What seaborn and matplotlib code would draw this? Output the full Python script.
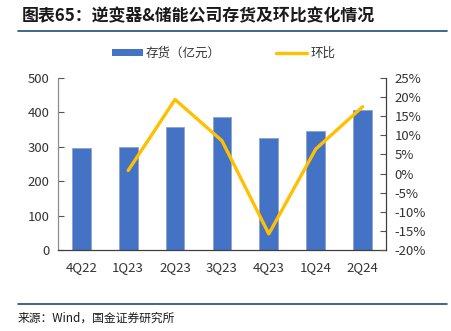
import numpy as np
import pandas as pd
import matplotlib
matplotlib.use("Agg")
import matplotlib.pyplot as plt
from matplotlib.lines import Line2D
from matplotlib.patches import Patch
import seaborn as sns

categories = ["4Q22", "1Q23", "2Q23", "3Q23", "4Q23", "1Q24", "2Q24"]
inventory = [297, 300, 358, 387, 326, 346, 407]
qoq = [np.nan, 0.008, 0.194, 0.086, -0.158, 0.064, 0.175]
left_ticks = [0, 100, 200, 300, 400, 500]
right_ticks = [-0.20, -0.15, -0.10, -0.05, 0.0, 0.05, 0.10, 0.15, 0.20, 0.25]

title = "图表65：逆变器&储能公司存货及环比变化情况"
source = "来源：Wind，国金证券研究所"
bar_label = "存货（亿元）"
line_label = "环比"

sns.set_style("white")
plt.rcParams["font.family"] = ["Noto Sans CJK SC", "DejaVu Sans"]

BLUE = "#4472C4"
GOLD = "#FFC000"
TXT = "#333333"

df = pd.DataFrame({"q": categories, "inv": inventory, "qoq": qoq})

fig = plt.figure(figsize=(4.52, 3.31), dpi=100)
ax = fig.add_axes([0.128, 0.245, 0.726, 0.519])

sns.barplot(data=df, x="q", y="inv", color=BLUE, width=0.4, ax=ax,
            saturation=1, edgecolor="#8EA3C8", linewidth=0.6)
ax.set_xlim(-0.5, len(categories) - 0.5)
ax.set_ylim(0, 500)
ax.set_yticks(left_ticks)
ax.set_xlabel("")
ax.set_ylabel("")

ax2 = ax.twinx()
sns.lineplot(data=df, x="q", y="qoq", color=GOLD, linewidth=2.4, ax=ax2,
             sort=False)
ax2.set_ylim(-0.20, 0.25)
ax2.set_yticks(right_ticks)
ax2.set_yticklabels([f"{round(v*100)}%" for v in right_ticks])
ax2.set_ylabel("")
ax2.set_xlim(-0.5, len(categories) - 0.5)

# x ticks: small inward marks at category boundaries, labels centered
ax.set_xticks(range(len(categories)))
ax.set_xticklabels(categories)
ax.tick_params(axis="x", which="major", length=0, pad=8, labelsize=9.5, labelcolor=TXT)
ax.set_xticks(np.arange(0.5, len(categories) - 0.5, 1.0), minor=True)
ax.tick_params(axis="x", which="minor", direction="in", length=4, width=0.8, color="#555555")
ax.tick_params(axis="y", direction="in", length=4, width=0.8, color="#555555",
               labelsize=9.5, labelcolor=TXT, pad=6)
ax2.tick_params(axis="y", direction="in", length=4, width=0.8, color="#555555",
                labelsize=9.5, labelcolor=TXT, pad=6)

for a in (ax, ax2):
    a.spines["top"].set_visible(False)
    a.grid(False)
ax.spines["left"].set_color("#8C8C8C")
ax.spines["bottom"].set_color("#404040")
ax.spines["right"].set_visible(False)
ax2.spines["left"].set_visible(False)
ax2.spines["bottom"].set_visible(False)
ax2.spines["right"].set_color("#404040")
for s in ("left", "bottom", "right"):
    ax.spines[s].set_linewidth(0.9)
    ax2.spines[s].set_linewidth(0.9)

handles = [Patch(facecolor=BLUE, edgecolor="none", label=bar_label),
           Line2D([0], [0], color=GOLD, linewidth=2.4, label=line_label)]
fig.legend(handles=handles, loc="center left", bbox_to_anchor=(0.222, 0.838),
           ncol=2, frameon=False, fontsize=9, handlelength=2.5, handleheight=0.55,
           handletextpad=0.25, columnspacing=4.4, labelcolor=TXT)

fig.text(0.049, 0.952, title, fontsize=12.2, fontweight="bold", color="#1a1a1a",
         va="center", ha="left")
fig.add_artist(Line2D([0.04, 0.99], [0.906, 0.906], transform=fig.transFigure,
                      color="#1F4E79", linewidth=1.2))
fig.add_artist(Line2D([0.04, 0.99], [0.082, 0.082], transform=fig.transFigure,
                      color="#1F4E79", linewidth=1.2))
fig.text(0.04, 0.040, source, fontsize=8.5, color="#1a1a1a", va="center", ha="left")

fig.savefig("out.png", dpi=100)
